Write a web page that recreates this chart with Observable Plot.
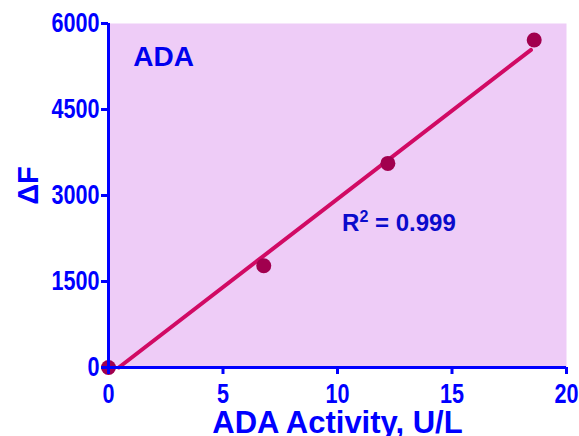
<!DOCTYPE html>
<html>
<head>
<meta charset="utf-8">
<script src="https://cdn.jsdelivr.net/npm/d3@7"></script>
<script src="https://cdn.jsdelivr.net/npm/@observablehq/plot@0.6"></script>
<style>
  html, body { margin: 0; padding: 0; background: white; }
</style>
</head>
<body>
<div id="chart"></div>
<script>
const activity = [0, 6.78, 12.2, 18.59];
const deltaF = [0, 1775, 3560, 5713];
const fitX = [0.45, 18.45];
const fitY = [0, 5540];
const xTicks = [0, 5, 10, 15, 20];
const yTicks = [0, 1500, 3000, 4500, 6000];
const xTitle = "ADA Activity, U/L";
const yTitle = "ΔF";
const label = "ADA";
const r2Base = "R";
const r2Sup = "2";
const r2Rest = " = 0.999";
const r2Full = r2Base + r2Sup + r2Rest;

const points = activity.map((x, i) => ({x, y: deltaF[i]}));
const fit = fitX.map((x, i) => ({x, y: fitY[i]}));

const mainFont = "'Liberation Sans', Arial, sans-serif";

const chart = Plot.plot({
  width: 579,
  height: 436,
  marginLeft: 108,
  marginRight: 13,
  marginTop: 23,
  marginBottom: 69,
  x: {domain: [0, 20]},
  y: {domain: [0, 6000]},
  style: {fontFamily: mainFont, background: "white"},
  marks: [
    Plot.frame({fill: "#EECCF7", stroke: null}),
    Plot.line(fit, {x: "x", y: "y", stroke: "#D10A64", strokeWidth: 4, strokeLinecap: "round"}),
    Plot.dot(points, {x: "x", y: "y", r: 7.5, fill: "#A1004E", stroke: null}),
    Plot.ruleX([0], {stroke: "blue", strokeWidth: 3}),
    Plot.ruleY([0], {stroke: "blue", strokeWidth: 3}),
    Plot.axisX({ticks: xTicks, tickSize: 7, tickPadding: 9, stroke: "blue", fill: "blue", strokeWidth: 3,
      fontSize: 27, fontWeight: "bold", label: null, tickFormat: d => String(d)}),
    Plot.axisY({ticks: yTicks, tickSize: 7, tickPadding: 2, stroke: "blue", fill: "blue", strokeWidth: 3,
      fontSize: 27, fontWeight: "bold", label: null, tickFormat: d => String(d)}),
    Plot.text([label], {x: 1.08, y: 5407, text: d => d, textAnchor: "start", lineAnchor: "middle", fill: "#0000EE",
      fontSize: 28, fontWeight: "bold"}),
    Plot.text([r2Full], {x: 10.2, y: 2518, text: d => d, textAnchor: "start", lineAnchor: "middle",
      fill: "#0A0ACC", fontSize: 24, fontWeight: "bold"}),
    Plot.text([xTitle], {frameAnchor: "bottom", text: d => d, dy: 55.7, textAnchor: "middle", lineAnchor: "middle",
      fill: "blue", fontSize: 31, fontWeight: "bold"}),
    Plot.text([yTitle], {frameAnchor: "left", y: 3175, text: d => d, dx: -79.6, rotate: -90,
      textAnchor: "middle", lineAnchor: "middle", fill: "blue", fontSize: 29, fontWeight: "bold"})
  ]
});

// narrow (condensed) tick labels like the reference
d3.select(chart).selectAll('g[aria-label="x-axis tick label"] text, g[aria-label="y-axis tick label"] text')
  .each(function () {
    const t = this.getAttribute("transform") || "";
    this.setAttribute("transform", t + " scale(0.8,1)");
  });

// superscript 2 in R²
d3.select(chart).selectAll("text").filter(function () { return this.textContent === r2Full; })
  .each(function () {
    const el = d3.select(this);
    el.text(null);
    el.append("tspan").text(r2Base);
    el.append("tspan").attr("dy", "-9").attr("font-size", "16").text(r2Sup);
    el.append("tspan").attr("dy", "9").text(r2Rest);
  });

document.getElementById("chart").appendChild(chart);
</script>
</body>
</html>
